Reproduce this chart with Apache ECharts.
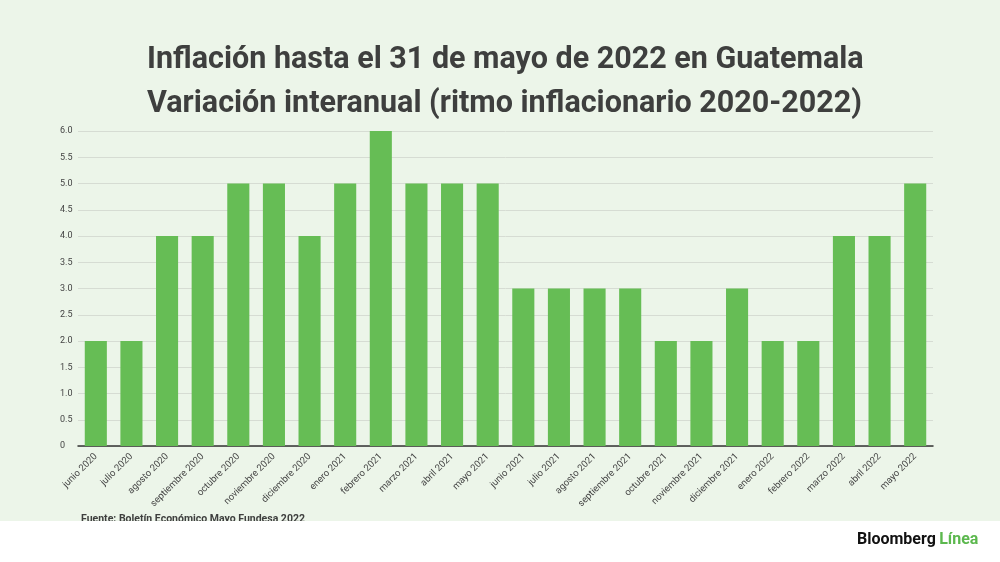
<!DOCTYPE html>
<html>
<head>
<meta charset="utf-8">
<script src="https://cdn.jsdelivr.net/npm/echarts@6/dist/echarts.min.js"></script>
<style>
  html, body { margin: 0; padding: 0; background: #ffffff; }
  #main { width: 1000px; height: 562px; }
</style>
</head>
<body>
<div id="main"></div>
<script>
var months = ['junio 2020', 'julio 2020', 'agosto 2020', 'septiembre 2020', 'octubre 2020', 'noviembre 2020',
  'diciembre 2020', 'enero 2021', 'febrero 2021', 'marzo 2021', 'abril 2021', 'mayo 2021',
  'junio 2021', 'julio 2021', 'agosto 2021', 'septiembre 2021', 'octubre 2021', 'noviembre 2021',
  'diciembre 2021', 'enero 2022', 'febrero 2022', 'marzo 2022', 'abril 2022', 'mayo 2022'];
var inflacion = [2, 2, 4, 4, 5, 5, 4, 5, 6, 5, 5, 5, 3, 3, 3, 3, 2, 2, 3, 2, 2, 4, 4, 5];

var myChart = echarts.init(document.getElementById('main'));

var option = {
  backgroundColor: '#ecf5e9',
  textStyle: { fontFamily: 'Roboto' },
  title: {
    text: 'Inflación hasta el 31 de mayo de 2022 en Guatemala\nVariación interanual (ritmo inflacionario 2020-2022)',
    left: 142,
    top: 33,
    textAlign: 'left',
    textStyle: { fontSize: 30.5, fontWeight: 'bold', color: '#3e3f3e', lineHeight: 44, fontFamily: 'Roboto', align: 'center' }
  },
  grid: { left: 78, right: 67, top: 131, bottom: 116 },
  xAxis: {
    type: 'category',
    data: months,
    axisLine: { lineStyle: { color: '#333333', width: 1.5 } },
    axisTick: { show: false },
    axisLabel: { rotate: 45, fontSize: 9.5, color: '#444444', interval: 0, margin: 9 }
  },
  yAxis: {
    type: 'value',
    min: 0,
    max: 6,
    interval: 0.5,
    axisLine: { show: false },
    axisTick: { show: false },
    splitLine: { lineStyle: { color: '#d6dcd3' } },
    axisLabel: {
      fontSize: 9, color: '#444444', align: 'left', margin: 18,
      formatter: function (v) { return v === 0 ? '0' : v.toFixed(1); }
    }
  },
  series: [{
    type: 'bar',
    data: inflacion,
    barWidth: '62%',
    itemStyle: { color: '#66bd55' }
  }],
  graphic: [
    {
      type: 'text', left: 81, top: 514, z: 10,
      style: { text: 'Fuente: Boletín Económico Mayo Fundesa 2022', fontSize: 10.5, fontWeight: 'bold', fill: '#3e3f3e', fontFamily: 'Roboto' }
    },
    {
      type: 'rect', left: 0, top: 521, z: 20,
      shape: { width: 1000, height: 41 },
      style: { fill: '#ffffff' }
    },
    {
      type: 'text', left: 857, top: 532, z: 30,
      style: {
        rich: {
          b: { fontSize: 16, fontWeight: 'bold', fill: '#111111', fontFamily: 'Roboto' },
          l: { fontSize: 16, fontWeight: 'bold', fill: '#5cb84e', fontFamily: 'Roboto' }
        },
        text: '{b|Bloomberg} {l|Línea}'
      }
    }
  ]
};
myChart.setOption(option);
</script>
</body>
</html>
